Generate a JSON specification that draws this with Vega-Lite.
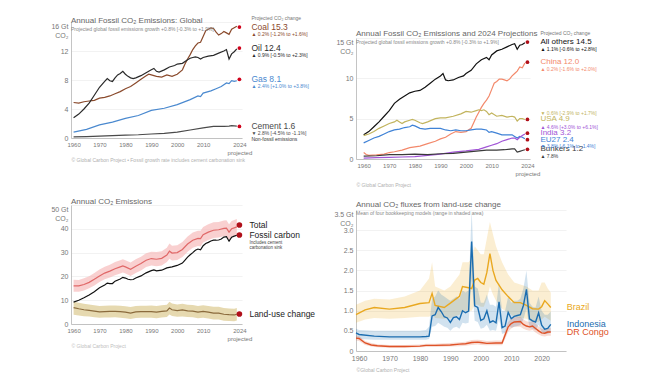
{
"$schema": "https://vega.github.io/schema/vega-lite/v6.json",
"background": "white",
"padding": {"left": 50, "top": 15, "right": 5, "bottom": 5},
"bounds": "full",
"spacing": 17,
"resolve": {"scale": {"color": "independent"}},
"config": {
 "view": {"stroke": null},
 "font": "Liberation Sans",
 "axis": {"labelFont": "Liberation Sans", "labelFontSize": 7, "labelColor": "#777", "domainColor": "#b5b5b5", "domainWidth": 0.8, "ticks": false, "labelPadding": 3, "gridColor": "#ededed", "gridWidth": 0.7, "titleFont": "Liberation Sans", "tickCount": 20},
 "axisX": {"grid": false, "labelOverlap": false},
 "axisY": {"grid": true},
 "title": {"anchor": "start", "frame": "group", "fontSize": 8, "fontWeight": "normal", "color": "#666", "subtitleFontSize": 5, "subtitleColor": "#888", "subtitlePadding": 2, "font": "Liberation Sans", "subtitleFont": "Liberation Sans"},
 "text": {"font": "Liberation Sans"}
},
"datasets": {
 "p1": [
  {"fuel":"Coal","year":1960,"value":4.9},{"fuel":"Coal","year":1962,"value":4.8},{"fuel":"Coal","year":1964,"value":5.0},{"fuel":"Coal","year":1966,"value":5.1},{"fuel":"Coal","year":1968,"value":5.2},{"fuel":"Coal","year":1970,"value":5.5},{"fuel":"Coal","year":1972,"value":5.6},{"fuel":"Coal","year":1974,"value":5.8},{"fuel":"Coal","year":1976,"value":6.1},{"fuel":"Coal","year":1978,"value":6.4},{"fuel":"Coal","year":1980,"value":6.8},{"fuel":"Coal","year":1982,"value":7.1},{"fuel":"Coal","year":1984,"value":7.6},{"fuel":"Coal","year":1986,"value":8.1},{"fuel":"Coal","year":1988,"value":8.6},{"fuel":"Coal","year":1989,"value":8.8},{"fuel":"Coal","year":1990,"value":8.7},{"fuel":"Coal","year":1992,"value":8.5},{"fuel":"Coal","year":1994,"value":8.4},{"fuel":"Coal","year":1996,"value":8.7},{"fuel":"Coal","year":1998,"value":8.5},{"fuel":"Coal","year":2000,"value":8.8},{"fuel":"Coal","year":2002,"value":9.4},{"fuel":"Coal","year":2003,"value":10.2},{"fuel":"Coal","year":2004,"value":10.9},{"fuel":"Coal","year":2005,"value":11.5},{"fuel":"Coal","year":2006,"value":12.2},{"fuel":"Coal","year":2007,"value":12.7},{"fuel":"Coal","year":2008,"value":13.1},{"fuel":"Coal","year":2009,"value":13.2},{"fuel":"Coal","year":2010,"value":14.0},{"fuel":"Coal","year":2011,"value":14.8},{"fuel":"Coal","year":2012,"value":15.0},{"fuel":"Coal","year":2013,"value":15.2},{"fuel":"Coal","year":2014,"value":15.1},{"fuel":"Coal","year":2015,"value":14.6},{"fuel":"Coal","year":2016,"value":14.2},{"fuel":"Coal","year":2017,"value":14.4},{"fuel":"Coal","year":2018,"value":14.7},{"fuel":"Coal","year":2019,"value":14.5},{"fuel":"Coal","year":2020,"value":14.3},{"fuel":"Coal","year":2021,"value":15.0},{"fuel":"Coal","year":2022,"value":15.2},{"fuel":"Coal","year":2023,"value":15.4},
  {"fuel":"Oil","year":1960,"value":2.8},{"fuel":"Oil","year":1962,"value":3.3},{"fuel":"Oil","year":1964,"value":4.0},{"fuel":"Oil","year":1966,"value":4.8},{"fuel":"Oil","year":1968,"value":5.9},{"fuel":"Oil","year":1970,"value":7.0},{"fuel":"Oil","year":1972,"value":7.8},{"fuel":"Oil","year":1973,"value":8.2},{"fuel":"Oil","year":1974,"value":7.9},{"fuel":"Oil","year":1975,"value":7.8},{"fuel":"Oil","year":1976,"value":8.3},{"fuel":"Oil","year":1977,"value":8.7},{"fuel":"Oil","year":1978,"value":8.9},{"fuel":"Oil","year":1979,"value":9.2},{"fuel":"Oil","year":1980,"value":8.8},{"fuel":"Oil","year":1981,"value":8.5},{"fuel":"Oil","year":1982,"value":8.3},{"fuel":"Oil","year":1983,"value":8.2},{"fuel":"Oil","year":1984,"value":8.3},{"fuel":"Oil","year":1986,"value":8.6},{"fuel":"Oil","year":1988,"value":9.0},{"fuel":"Oil","year":1990,"value":9.4},{"fuel":"Oil","year":1991,"value":9.6},{"fuel":"Oil","year":1992,"value":9.2},{"fuel":"Oil","year":1993,"value":9.1},{"fuel":"Oil","year":1995,"value":9.4},{"fuel":"Oil","year":1997,"value":9.8},{"fuel":"Oil","year":1999,"value":10.0},{"fuel":"Oil","year":2000,"value":10.2},{"fuel":"Oil","year":2002,"value":10.3},{"fuel":"Oil","year":2004,"value":10.8},{"fuel":"Oil","year":2005,"value":11.0},{"fuel":"Oil","year":2006,"value":11.1},{"fuel":"Oil","year":2007,"value":11.2},{"fuel":"Oil","year":2008,"value":11.1},{"fuel":"Oil","year":2009,"value":10.9},{"fuel":"Oil","year":2010,"value":11.1},{"fuel":"Oil","year":2012,"value":11.3},{"fuel":"Oil","year":2014,"value":11.4},{"fuel":"Oil","year":2016,"value":11.7},{"fuel":"Oil","year":2018,"value":12.0},{"fuel":"Oil","year":2019,"value":12.2},{"fuel":"Oil","year":2020,"value":10.9},{"fuel":"Oil","year":2021,"value":11.6},{"fuel":"Oil","year":2022,"value":11.9},{"fuel":"Oil","year":2023,"value":12.3},
  {"fuel":"Gas","year":1960,"value":0.8},{"fuel":"Gas","year":1965,"value":1.2},{"fuel":"Gas","year":1970,"value":1.8},{"fuel":"Gas","year":1975,"value":2.2},{"fuel":"Gas","year":1980,"value":2.7},{"fuel":"Gas","year":1985,"value":3.1},{"fuel":"Gas","year":1990,"value":3.8},{"fuel":"Gas","year":1995,"value":4.1},{"fuel":"Gas","year":2000,"value":4.6},{"fuel":"Gas","year":2005,"value":5.3},{"fuel":"Gas","year":2008,"value":5.8},{"fuel":"Gas","year":2009,"value":5.7},{"fuel":"Gas","year":2010,"value":6.2},{"fuel":"Gas","year":2013,"value":6.5},{"fuel":"Gas","year":2015,"value":6.8},{"fuel":"Gas","year":2017,"value":7.1},{"fuel":"Gas","year":2019,"value":7.6},{"fuel":"Gas","year":2020,"value":7.5},{"fuel":"Gas","year":2021,"value":7.9},{"fuel":"Gas","year":2022,"value":7.8},{"fuel":"Gas","year":2023,"value":7.9},
  {"fuel":"Cement","year":1960,"value":0.15},{"fuel":"Cement","year":1965,"value":0.2},{"fuel":"Cement","year":1970,"value":0.25},{"fuel":"Cement","year":1975,"value":0.33},{"fuel":"Cement","year":1980,"value":0.4},{"fuel":"Cement","year":1985,"value":0.45},{"fuel":"Cement","year":1990,"value":0.55},{"fuel":"Cement","year":1995,"value":0.65},{"fuel":"Cement","year":2000,"value":0.8},{"fuel":"Cement","year":2005,"value":1.1},{"fuel":"Cement","year":2010,"value":1.4},{"fuel":"Cement","year":2014,"value":1.6},{"fuel":"Cement","year":2018,"value":1.6},{"fuel":"Cement","year":2020,"value":1.65},{"fuel":"Cement","year":2021,"value":1.7},{"fuel":"Cement","year":2023,"value":1.65}
 ],
 "p1lab": [
  {"fuel":"Coal","value":15.3,"name":"Coal 15.3","growth":"▲ 0.2% [-1.2% to +1.6%]"},
  {"fuel":"Oil","value":12.4,"name":"Oil 12.4","growth":"▲ 0.9% [-0.5% to +2.3%]"},
  {"fuel":"Gas","value":8.1,"name":"Gas 8.1","growth":"▲ 2.4% [+1.0% to +3.8%]"},
  {"fuel":"Cement","value":1.6,"name":"Cement 1.6","growth":"▼ 2.8% [-4.5% to -1.1%]"}
 ],
 "p2": [
  {"country":"All others","year":1960,"value":3.0},{"country":"All others","year":1962,"value":3.4},{"country":"All others","year":1964,"value":4.0},{"country":"All others","year":1966,"value":4.6},{"country":"All others","year":1968,"value":5.3},{"country":"All others","year":1970,"value":6.0},{"country":"All others","year":1972,"value":6.9},{"country":"All others","year":1974,"value":7.4},{"country":"All others","year":1976,"value":7.8},{"country":"All others","year":1978,"value":8.2},{"country":"All others","year":1980,"value":8.4},{"country":"All others","year":1982,"value":8.5},{"country":"All others","year":1984,"value":8.9},{"country":"All others","year":1986,"value":9.4},{"country":"All others","year":1988,"value":9.9},{"country":"All others","year":1990,"value":10.3},{"country":"All others","year":1991,"value":10.6},{"country":"All others","year":1992,"value":9.8},{"country":"All others","year":1993,"value":9.7},{"country":"All others","year":1995,"value":9.8},{"country":"All others","year":1997,"value":10.1},{"country":"All others","year":1999,"value":10.3},{"country":"All others","year":2000,"value":10.6},{"country":"All others","year":2002,"value":11.0},{"country":"All others","year":2004,"value":11.8},{"country":"All others","year":2006,"value":12.3},{"country":"All others","year":2008,"value":12.6},{"country":"All others","year":2009,"value":12.3},{"country":"All others","year":2010,"value":12.9},{"country":"All others","year":2012,"value":13.4},{"country":"All others","year":2014,"value":13.6},{"country":"All others","year":2016,"value":13.9},{"country":"All others","year":2018,"value":14.2},{"country":"All others","year":2019,"value":14.3},{"country":"All others","year":2020,"value":13.6},{"country":"All others","year":2021,"value":14.1},{"country":"All others","year":2022,"value":14.2},{"country":"All others","year":2023,"value":14.4},
  {"country":"China","year":1960,"value":0.8},{"country":"China","year":1961,"value":0.55},{"country":"China","year":1962,"value":0.45},{"country":"China","year":1965,"value":0.5},{"country":"China","year":1968,"value":0.6},{"country":"China","year":1970,"value":0.8},{"country":"China","year":1972,"value":0.9},{"country":"China","year":1975,"value":1.1},{"country":"China","year":1978,"value":1.4},{"country":"China","year":1980,"value":1.5},{"country":"China","year":1982,"value":1.6},{"country":"China","year":1985,"value":1.9},{"country":"China","year":1988,"value":2.2},{"country":"China","year":1990,"value":2.5},{"country":"China","year":1992,"value":2.7},{"country":"China","year":1994,"value":3.1},{"country":"China","year":1996,"value":3.4},{"country":"China","year":1998,"value":3.3},{"country":"China","year":2000,"value":3.4},{"country":"China","year":2002,"value":3.8},{"country":"China","year":2003,"value":4.5},{"country":"China","year":2004,"value":5.2},{"country":"China","year":2005,"value":5.8},{"country":"China","year":2006,"value":6.4},{"country":"China","year":2007,"value":6.9},{"country":"China","year":2008,"value":7.3},{"country":"China","year":2009,"value":7.8},{"country":"China","year":2010,"value":8.6},{"country":"China","year":2011,"value":9.4},{"country":"China","year":2012,"value":9.6},{"country":"China","year":2013,"value":9.9},{"country":"China","year":2014,"value":9.9},{"country":"China","year":2015,"value":9.8},{"country":"China","year":2016,"value":9.7},{"country":"China","year":2017,"value":9.9},{"country":"China","year":2018,"value":10.3},{"country":"China","year":2019,"value":10.6},{"country":"China","year":2020,"value":10.9},{"country":"China","year":2021,"value":11.4},{"country":"China","year":2022,"value":11.3},{"country":"China","year":2023,"value":11.9},
  {"country":"USA","year":1960,"value":2.9},{"country":"USA","year":1962,"value":3.1},{"country":"USA","year":1964,"value":3.4},{"country":"USA","year":1966,"value":3.8},{"country":"USA","year":1968,"value":4.1},{"country":"USA","year":1970,"value":4.4},{"country":"USA","year":1972,"value":4.6},{"country":"USA","year":1973,"value":4.8},{"country":"USA","year":1974,"value":4.6},{"country":"USA","year":1975,"value":4.4},{"country":"USA","year":1976,"value":4.6},{"country":"USA","year":1978,"value":4.8},{"country":"USA","year":1979,"value":4.9},{"country":"USA","year":1980,"value":4.8},{"country":"USA","year":1982,"value":4.5},{"country":"USA","year":1983,"value":4.4},{"country":"USA","year":1985,"value":4.6},{"country":"USA","year":1988,"value":5.0},{"country":"USA","year":1990,"value":5.1},{"country":"USA","year":1992,"value":5.1},{"country":"USA","year":1995,"value":5.3},{"country":"USA","year":1998,"value":5.6},{"country":"USA","year":2000,"value":5.9},{"country":"USA","year":2002,"value":5.8},{"country":"USA","year":2004,"value":6.0},{"country":"USA","year":2005,"value":6.1},{"country":"USA","year":2006,"value":6.0},{"country":"USA","year":2007,"value":6.1},{"country":"USA","year":2008,"value":5.9},{"country":"USA","year":2009,"value":5.5},{"country":"USA","year":2010,"value":5.7},{"country":"USA","year":2012,"value":5.3},{"country":"USA","year":2014,"value":5.4},{"country":"USA","year":2016,"value":5.2},{"country":"USA","year":2018,"value":5.3},{"country":"USA","year":2019,"value":5.2},{"country":"USA","year":2020,"value":4.7},{"country":"USA","year":2021,"value":5.0},{"country":"USA","year":2022,"value":5.0},{"country":"USA","year":2023,"value":4.9},
  {"country":"EU27","year":1960,"value":2.0},{"country":"EU27","year":1962,"value":2.3},{"country":"EU27","year":1964,"value":2.6},{"country":"EU27","year":1966,"value":2.8},{"country":"EU27","year":1968,"value":3.1},{"country":"EU27","year":1970,"value":3.4},{"country":"EU27","year":1972,"value":3.6},{"country":"EU27","year":1974,"value":3.7},{"country":"EU27","year":1976,"value":3.9},{"country":"EU27","year":1978,"value":4.0},{"country":"EU27","year":1979,"value":4.2},{"country":"EU27","year":1980,"value":4.1},{"country":"EU27","year":1982,"value":3.8},{"country":"EU27","year":1984,"value":3.7},{"country":"EU27","year":1986,"value":3.8},{"country":"EU27","year":1988,"value":3.8},{"country":"EU27","year":1990,"value":3.8},{"country":"EU27","year":1992,"value":3.6},{"country":"EU27","year":1994,"value":3.5},{"country":"EU27","year":1996,"value":3.6},{"country":"EU27","year":1998,"value":3.5},{"country":"EU27","year":2000,"value":3.5},{"country":"EU27","year":2002,"value":3.6},{"country":"EU27","year":2004,"value":3.7},{"country":"EU27","year":2006,"value":3.7},{"country":"EU27","year":2008,"value":3.6},{"country":"EU27","year":2009,"value":3.3},{"country":"EU27","year":2010,"value":3.4},{"country":"EU27","year":2012,"value":3.2},{"country":"EU27","year":2014,"value":3.0},{"country":"EU27","year":2016,"value":3.0},{"country":"EU27","year":2018,"value":3.0},{"country":"EU27","year":2019,"value":2.8},{"country":"EU27","year":2020,"value":2.6},{"country":"EU27","year":2021,"value":2.8},{"country":"EU27","year":2022,"value":2.7},{"country":"EU27","year":2023,"value":2.5},
  {"country":"India","year":1960,"value":0.12},{"country":"India","year":1965,"value":0.17},{"country":"India","year":1970,"value":0.2},{"country":"India","year":1975,"value":0.25},{"country":"India","year":1980,"value":0.3},{"country":"India","year":1985,"value":0.45},{"country":"India","year":1990,"value":0.6},{"country":"India","year":1995,"value":0.85},{"country":"India","year":2000,"value":1.0},{"country":"India","year":2005,"value":1.2},{"country":"India","year":2008,"value":1.5},{"country":"India","year":2010,"value":1.7},{"country":"India","year":2012,"value":1.9},{"country":"India","year":2014,"value":2.2},{"country":"India","year":2016,"value":2.4},{"country":"India","year":2018,"value":2.6},{"country":"India","year":2019,"value":2.6},{"country":"India","year":2020,"value":2.4},{"country":"India","year":2021,"value":2.7},{"country":"India","year":2022,"value":2.9},{"country":"India","year":2023,"value":3.1},
  {"country":"Bunkers","year":1960,"value":0.35},{"country":"Bunkers","year":1965,"value":0.4},{"country":"Bunkers","year":1970,"value":0.55},{"country":"Bunkers","year":1975,"value":0.55},{"country":"Bunkers","year":1980,"value":0.6},{"country":"Bunkers","year":1985,"value":0.55},{"country":"Bunkers","year":1990,"value":0.65},{"country":"Bunkers","year":1995,"value":0.7},{"country":"Bunkers","year":2000,"value":0.85},{"country":"Bunkers","year":2005,"value":1.0},{"country":"Bunkers","year":2008,"value":1.1},{"country":"Bunkers","year":2010,"value":1.1},{"country":"Bunkers","year":2012,"value":1.1},{"country":"Bunkers","year":2015,"value":1.15},{"country":"Bunkers","year":2018,"value":1.25},{"country":"Bunkers","year":2019,"value":1.25},{"country":"Bunkers","year":2020,"value":0.85},{"country":"Bunkers","year":2021,"value":0.95},{"country":"Bunkers","year":2022,"value":1.05},{"country":"Bunkers","year":2023,"value":1.15}
 ],
 "p2lab": [
  {"country":"All others","value":14.5,"name":"All others 14.5","growth":"▲ 1.1% [-0.6% to +2.8%]"},
  {"country":"China","value":12.0,"name":"China 12.0","growth":"▲ 0.2% [-1.6% to +2.0%]"},
  {"country":"USA","value":4.9,"name":"USA 4.9","growth":"▼ 0.6% [-2.9% to +1.7%]"},
  {"country":"India","value":3.2,"name":"India 3.2","growth":"▲ 4.6% [+3.0% to +6.1%]"},
  {"country":"EU27","value":2.4,"name":"EU27 2.4","growth":"▼ 3.8% [-6.1% to -1.4%]"},
  {"country":"Bunkers","value":1.2,"name":"Bunkers 1.2","growth":"▲ 7.8%"}
 ],
 "p3": [
  {"series":"Total","year":1960,"value":16.0,"lo":13.6,"hi":18.6},{"series":"Total","year":1962,"value":16.0,"lo":13.6,"hi":18.5},{"series":"Total","year":1964,"value":16.6,"lo":14.1,"hi":19.2},{"series":"Total","year":1966,"value":17.5,"lo":15.0,"hi":20.1},{"series":"Total","year":1968,"value":18.8,"lo":16.2,"hi":21.4},{"series":"Total","year":1970,"value":20.2,"lo":17.6,"hi":22.9},{"series":"Total","year":1972,"value":21.4,"lo":18.8,"hi":24.1},{"series":"Total","year":1974,"value":22.2,"lo":19.5,"hi":24.9},{"series":"Total","year":1976,"value":23.2,"lo":20.5,"hi":26.0},{"series":"Total","year":1978,"value":24.0,"lo":21.2,"hi":26.8},{"series":"Total","year":1979,"value":24.4,"lo":21.6,"hi":27.2},{"series":"Total","year":1980,"value":24.0,"lo":21.2,"hi":26.8},{"series":"Total","year":1982,"value":23.0,"lo":20.2,"hi":25.8},{"series":"Total","year":1984,"value":24.3,"lo":21.4,"hi":27.2},{"series":"Total","year":1986,"value":25.4,"lo":22.5,"hi":28.3},{"series":"Total","year":1988,"value":26.8,"lo":23.9,"hi":29.7},{"series":"Total","year":1990,"value":27.5,"lo":24.6,"hi":30.4},{"series":"Total","year":1992,"value":27.2,"lo":24.3,"hi":30.2},{"series":"Total","year":1994,"value":27.6,"lo":24.6,"hi":30.6},{"series":"Total","year":1996,"value":29.0,"lo":26.0,"hi":32.0},{"series":"Total","year":1997,"value":30.6,"lo":27.4,"hi":33.8},{"series":"Total","year":1998,"value":29.8,"lo":26.7,"hi":32.9},{"series":"Total","year":2000,"value":30.0,"lo":26.9,"hi":33.1},{"series":"Total","year":2002,"value":31.3,"lo":28.1,"hi":34.5},{"series":"Total","year":2004,"value":33.6,"lo":30.4,"hi":36.8},{"series":"Total","year":2006,"value":35.2,"lo":32.0,"hi":38.4},{"series":"Total","year":2008,"value":36.0,"lo":32.8,"hi":39.2},{"series":"Total","year":2009,"value":35.9,"lo":32.6,"hi":39.2},{"series":"Total","year":2010,"value":37.5,"lo":34.2,"hi":40.8},{"series":"Total","year":2012,"value":38.6,"lo":35.3,"hi":41.9},{"series":"Total","year":2014,"value":39.4,"lo":36.1,"hi":42.7},{"series":"Total","year":2016,"value":39.6,"lo":36.3,"hi":42.9},{"series":"Total","year":2018,"value":40.2,"lo":36.9,"hi":43.5},{"series":"Total","year":2019,"value":40.3,"lo":37.0,"hi":43.6},{"series":"Total","year":2020,"value":38.6,"lo":35.3,"hi":41.9},{"series":"Total","year":2021,"value":40.0,"lo":36.7,"hi":43.3},{"series":"Total","year":2022,"value":40.4,"lo":37.1,"hi":43.7},{"series":"Total","year":2023,"value":40.8,"lo":37.5,"hi":44.1},
  {"series":"Fossil carbon","year":1960,"value":9.2},{"series":"Fossil carbon","year":1962,"value":10.0},{"series":"Fossil carbon","year":1964,"value":11.0},{"series":"Fossil carbon","year":1966,"value":12.2},{"series":"Fossil carbon","year":1968,"value":13.6},{"series":"Fossil carbon","year":1970,"value":15.2},{"series":"Fossil carbon","year":1972,"value":16.4},{"series":"Fossil carbon","year":1973,"value":17.2},{"series":"Fossil carbon","year":1974,"value":17.0},{"series":"Fossil carbon","year":1975,"value":17.0},{"series":"Fossil carbon","year":1976,"value":18.0},{"series":"Fossil carbon","year":1978,"value":18.9},{"series":"Fossil carbon","year":1979,"value":19.6},{"series":"Fossil carbon","year":1980,"value":19.3},{"series":"Fossil carbon","year":1981,"value":18.8},{"series":"Fossil carbon","year":1982,"value":18.6},{"series":"Fossil carbon","year":1983,"value":18.7},{"series":"Fossil carbon","year":1984,"value":19.3},{"series":"Fossil carbon","year":1986,"value":20.2},{"series":"Fossil carbon","year":1988,"value":21.5},{"series":"Fossil carbon","year":1990,"value":22.4},{"series":"Fossil carbon","year":1991,"value":22.7},{"series":"Fossil carbon","year":1992,"value":22.3},{"series":"Fossil carbon","year":1994,"value":22.6},{"series":"Fossil carbon","year":1996,"value":23.6},{"series":"Fossil carbon","year":1998,"value":24.0},{"series":"Fossil carbon","year":2000,"value":24.6},{"series":"Fossil carbon","year":2002,"value":25.6},{"series":"Fossil carbon","year":2003,"value":26.8},{"series":"Fossil carbon","year":2004,"value":28.1},{"series":"Fossil carbon","year":2005,"value":29.1},{"series":"Fossil carbon","year":2006,"value":30.0},{"series":"Fossil carbon","year":2007,"value":31.0},{"series":"Fossil carbon","year":2008,"value":31.5},{"series":"Fossil carbon","year":2009,"value":31.2},{"series":"Fossil carbon","year":2010,"value":32.9},{"series":"Fossil carbon","year":2011,"value":33.8},{"series":"Fossil carbon","year":2012,"value":34.3},{"series":"Fossil carbon","year":2013,"value":34.9},{"series":"Fossil carbon","year":2014,"value":35.2},{"series":"Fossil carbon","year":2015,"value":35.2},{"series":"Fossil carbon","year":2016,"value":35.3},{"series":"Fossil carbon","year":2017,"value":35.7},{"series":"Fossil carbon","year":2018,"value":36.5},{"series":"Fossil carbon","year":2019,"value":36.7},{"series":"Fossil carbon","year":2020,"value":34.8},{"series":"Fossil carbon","year":2021,"value":36.5},{"series":"Fossil carbon","year":2022,"value":36.9},{"series":"Fossil carbon","year":2023,"value":37.3},
  {"series":"Land-use change","year":1960,"value":6.9,"lo":3.9,"hi":9.3},{"series":"Land-use change","year":1962,"value":6.4,"lo":3.6,"hi":8.9},{"series":"Land-use change","year":1964,"value":6.0,"lo":3.3,"hi":8.5},{"series":"Land-use change","year":1966,"value":5.7,"lo":3.1,"hi":8.2},{"series":"Land-use change","year":1968,"value":5.4,"lo":2.8,"hi":7.9},{"series":"Land-use change","year":1970,"value":5.1,"lo":2.6,"hi":7.6},{"series":"Land-use change","year":1972,"value":5.2,"lo":2.7,"hi":7.7},{"series":"Land-use change","year":1974,"value":5.3,"lo":2.7,"hi":7.8},{"series":"Land-use change","year":1976,"value":5.3,"lo":2.8,"hi":7.8},{"series":"Land-use change","year":1978,"value":5.2,"lo":2.6,"hi":7.7},{"series":"Land-use change","year":1980,"value":5.0,"lo":2.4,"hi":7.5},{"series":"Land-use change","year":1982,"value":4.6,"lo":2.1,"hi":7.1},{"series":"Land-use change","year":1984,"value":5.1,"lo":2.5,"hi":7.6},{"series":"Land-use change","year":1986,"value":5.2,"lo":2.6,"hi":7.7},{"series":"Land-use change","year":1988,"value":5.2,"lo":2.6,"hi":7.7},{"series":"Land-use change","year":1990,"value":5.2,"lo":2.6,"hi":7.8},{"series":"Land-use change","year":1992,"value":5.0,"lo":2.4,"hi":7.6},{"series":"Land-use change","year":1994,"value":5.3,"lo":2.7,"hi":7.9},{"series":"Land-use change","year":1996,"value":5.5,"lo":2.9,"hi":8.1},{"series":"Land-use change","year":1997,"value":6.7,"lo":4.0,"hi":9.3},{"series":"Land-use change","year":1998,"value":6.0,"lo":3.4,"hi":8.6},{"series":"Land-use change","year":2000,"value":5.6,"lo":3.0,"hi":8.2},{"series":"Land-use change","year":2002,"value":5.9,"lo":3.2,"hi":8.5},{"series":"Land-use change","year":2004,"value":5.5,"lo":2.9,"hi":8.1},{"series":"Land-use change","year":2006,"value":5.4,"lo":2.8,"hi":8.0},{"series":"Land-use change","year":2008,"value":5.0,"lo":2.4,"hi":7.6},{"series":"Land-use change","year":2010,"value":5.3,"lo":2.6,"hi":7.9},{"series":"Land-use change","year":2012,"value":5.0,"lo":2.3,"hi":7.6},{"series":"Land-use change","year":2014,"value":4.6,"lo":1.9,"hi":7.2},{"series":"Land-use change","year":2016,"value":4.6,"lo":1.9,"hi":7.2},{"series":"Land-use change","year":2018,"value":4.1,"lo":1.4,"hi":6.7},{"series":"Land-use change","year":2020,"value":3.9,"lo":1.3,"hi":6.5},{"series":"Land-use change","year":2022,"value":3.8,"lo":1.2,"hi":6.4},{"series":"Land-use change","year":2023,"value":4.1,"lo":1.5,"hi":6.7}
 ],
 "p3lab": [
  {"series":"Total","value":41.6,"name":"Total"},
  {"series":"Fossil carbon","value":37.4,"name":"Fossil carbon"},
  {"series":"Land-use change","value":4.2,"name":"Land-use change"}
 ],
 "p4": [
  {"country":"Brazil","year":1959,"value":0.9,"lo":0.7,"hi":1.15},{"country":"Brazil","year":1962,"value":1.02,"lo":0.78,"hi":1.25},{"country":"Brazil","year":1965,"value":1.08,"lo":0.82,"hi":1.3},{"country":"Brazil","year":1970,"value":1.04,"lo":0.8,"hi":1.28},{"country":"Brazil","year":1975,"value":1.08,"lo":0.82,"hi":1.35},{"country":"Brazil","year":1980,"value":1.18,"lo":0.85,"hi":1.5},{"country":"Brazil","year":1983,"value":1.2,"lo":0.85,"hi":1.8},{"country":"Brazil","year":1984,"value":1.43,"lo":0.9,"hi":2.2},{"country":"Brazil","year":1985,"value":1.13,"lo":0.82,"hi":1.6},{"country":"Brazil","year":1988,"value":1.08,"lo":0.8,"hi":1.5},{"country":"Brazil","year":1990,"value":1.19,"lo":0.82,"hi":1.6},{"country":"Brazil","year":1993,"value":1.36,"lo":0.9,"hi":1.9},{"country":"Brazil","year":1994,"value":1.6,"lo":1.0,"hi":2.2},{"country":"Brazil","year":1996,"value":1.57,"lo":1.0,"hi":2.2},{"country":"Brazil","year":1997,"value":1.55,"lo":1.0,"hi":2.3},{"country":"Brazil","year":1998,"value":1.76,"lo":1.15,"hi":2.6},{"country":"Brazil","year":1999,"value":1.8,"lo":1.15,"hi":2.5},{"country":"Brazil","year":2000,"value":1.7,"lo":1.1,"hi":2.4},{"country":"Brazil","year":2001,"value":1.66,"lo":1.1,"hi":2.4},{"country":"Brazil","year":2002,"value":1.95,"lo":1.3,"hi":2.8},{"country":"Brazil","year":2003,"value":2.42,"lo":1.6,"hi":3.2},{"country":"Brazil","year":2004,"value":2.0,"lo":1.4,"hi":2.9},{"country":"Brazil","year":2005,"value":1.75,"lo":1.25,"hi":2.6},{"country":"Brazil","year":2007,"value":1.52,"lo":1.05,"hi":2.2},{"country":"Brazil","year":2009,"value":1.35,"lo":0.95,"hi":1.9},{"country":"Brazil","year":2011,"value":1.2,"lo":0.85,"hi":1.7},{"country":"Brazil","year":2013,"value":1.2,"lo":0.82,"hi":1.65},{"country":"Brazil","year":2015,"value":1.13,"lo":0.8,"hi":1.6},{"country":"Brazil","year":2017,"value":1.05,"lo":0.72,"hi":1.5},{"country":"Brazil","year":2019,"value":1.04,"lo":0.72,"hi":1.5},{"country":"Brazil","year":2020,"value":1.1,"lo":0.78,"hi":1.7},{"country":"Brazil","year":2021,"value":1.25,"lo":0.85,"hi":1.7},{"country":"Brazil","year":2022,"value":1.17,"lo":0.8,"hi":1.55},{"country":"Brazil","year":2023,"value":1.08,"lo":0.75,"hi":1.45},
  {"country":"Indonesia","year":1959,"value":0.45,"lo":0.3,"hi":0.55},{"country":"Indonesia","year":1960,"value":0.41,"lo":0.3,"hi":0.52},{"country":"Indonesia","year":1965,"value":0.37,"lo":0.28,"hi":0.5},{"country":"Indonesia","year":1970,"value":0.35,"lo":0.28,"hi":0.5},{"country":"Indonesia","year":1975,"value":0.35,"lo":0.28,"hi":0.5},{"country":"Indonesia","year":1980,"value":0.35,"lo":0.28,"hi":0.5},{"country":"Indonesia","year":1982,"value":0.36,"lo":0.28,"hi":0.52},{"country":"Indonesia","year":1983,"value":0.37,"lo":0.3,"hi":0.6},{"country":"Indonesia","year":1984,"value":0.87,"lo":0.6,"hi":1.3},{"country":"Indonesia","year":1985,"value":0.9,"lo":0.62,"hi":1.35},{"country":"Indonesia","year":1986,"value":1.08,"lo":0.7,"hi":1.5},{"country":"Indonesia","year":1987,"value":0.98,"lo":0.65,"hi":1.4},{"country":"Indonesia","year":1988,"value":0.85,"lo":0.6,"hi":1.35},{"country":"Indonesia","year":1989,"value":0.82,"lo":0.58,"hi":1.3},{"country":"Indonesia","year":1990,"value":0.71,"lo":0.5,"hi":1.25},{"country":"Indonesia","year":1991,"value":0.83,"lo":0.58,"hi":1.3},{"country":"Indonesia","year":1992,"value":0.85,"lo":0.6,"hi":1.35},{"country":"Indonesia","year":1993,"value":0.78,"lo":0.55,"hi":1.3},{"country":"Indonesia","year":1994,"value":1.0,"lo":0.7,"hi":1.5},{"country":"Indonesia","year":1995,"value":0.95,"lo":0.68,"hi":1.45},{"country":"Indonesia","year":1996,"value":0.99,"lo":0.7,"hi":1.5},{"country":"Indonesia","year":1997,"value":2.72,"lo":1.8,"hi":3.5},{"country":"Indonesia","year":1998,"value":1.12,"lo":0.75,"hi":1.6},{"country":"Indonesia","year":1999,"value":1.08,"lo":0.72,"hi":1.55},{"country":"Indonesia","year":2000,"value":0.76,"lo":0.55,"hi":1.2},{"country":"Indonesia","year":2001,"value":0.8,"lo":0.58,"hi":1.2},{"country":"Indonesia","year":2002,"value":1.0,"lo":0.65,"hi":1.4},{"country":"Indonesia","year":2003,"value":0.71,"lo":0.5,"hi":1.15},{"country":"Indonesia","year":2004,"value":0.75,"lo":0.52,"hi":1.15},{"country":"Indonesia","year":2005,"value":0.7,"lo":0.5,"hi":1.1},{"country":"Indonesia","year":2006,"value":1.22,"lo":0.8,"hi":1.7},{"country":"Indonesia","year":2007,"value":0.58,"lo":0.42,"hi":1.0},{"country":"Indonesia","year":2008,"value":0.62,"lo":0.45,"hi":1.0},{"country":"Indonesia","year":2009,"value":0.96,"lo":0.65,"hi":1.35},{"country":"Indonesia","year":2010,"value":0.8,"lo":0.58,"hi":1.2},{"country":"Indonesia","year":2011,"value":0.86,"lo":0.6,"hi":1.25},{"country":"Indonesia","year":2012,"value":0.88,"lo":0.62,"hi":1.25},{"country":"Indonesia","year":2013,"value":0.9,"lo":0.64,"hi":1.3},{"country":"Indonesia","year":2014,"value":1.13,"lo":0.78,"hi":1.55},{"country":"Indonesia","year":2015,"value":1.53,"lo":1.05,"hi":2.0},{"country":"Indonesia","year":2016,"value":0.8,"lo":0.58,"hi":1.2},{"country":"Indonesia","year":2017,"value":0.75,"lo":0.55,"hi":1.1},{"country":"Indonesia","year":2018,"value":0.72,"lo":0.52,"hi":1.08},{"country":"Indonesia","year":2019,"value":0.95,"lo":0.65,"hi":1.35},{"country":"Indonesia","year":2020,"value":0.64,"lo":0.48,"hi":1.0},{"country":"Indonesia","year":2021,"value":0.54,"lo":0.42,"hi":0.9},{"country":"Indonesia","year":2022,"value":0.56,"lo":0.42,"hi":0.9},{"country":"Indonesia","year":2023,"value":0.66,"lo":0.48,"hi":0.98},
  {"country":"DR Congo","year":1959,"value":0.32,"lo":0.26,"hi":0.38},{"country":"DR Congo","year":1960,"value":0.31,"lo":0.25,"hi":0.37},{"country":"DR Congo","year":1962,"value":0.2,"lo":0.15,"hi":0.25},{"country":"DR Congo","year":1964,"value":0.15,"lo":0.11,"hi":0.2},{"country":"DR Congo","year":1966,"value":0.13,"lo":0.09,"hi":0.17},{"country":"DR Congo","year":1970,"value":0.11,"lo":0.08,"hi":0.15},{"country":"DR Congo","year":1975,"value":0.11,"lo":0.08,"hi":0.15},{"country":"DR Congo","year":1980,"value":0.12,"lo":0.09,"hi":0.16},{"country":"DR Congo","year":1982,"value":0.14,"lo":0.1,"hi":0.18},{"country":"DR Congo","year":1985,"value":0.14,"lo":0.1,"hi":0.18},{"country":"DR Congo","year":1990,"value":0.15,"lo":0.11,"hi":0.2},{"country":"DR Congo","year":1993,"value":0.17,"lo":0.12,"hi":0.22},{"country":"DR Congo","year":1995,"value":0.18,"lo":0.13,"hi":0.23},{"country":"DR Congo","year":1997,"value":0.21,"lo":0.15,"hi":0.27},{"country":"DR Congo","year":1999,"value":0.22,"lo":0.16,"hi":0.28},{"country":"DR Congo","year":2000,"value":0.21,"lo":0.15,"hi":0.27},{"country":"DR Congo","year":2002,"value":0.19,"lo":0.14,"hi":0.25},{"country":"DR Congo","year":2005,"value":0.2,"lo":0.14,"hi":0.26},{"country":"DR Congo","year":2007,"value":0.2,"lo":0.14,"hi":0.26},{"country":"DR Congo","year":2008,"value":0.4,"lo":0.3,"hi":0.5},{"country":"DR Congo","year":2009,"value":0.6,"lo":0.48,"hi":0.72},{"country":"DR Congo","year":2010,"value":0.68,"lo":0.56,"hi":0.8},{"country":"DR Congo","year":2011,"value":0.72,"lo":0.6,"hi":0.84},{"country":"DR Congo","year":2013,"value":0.73,"lo":0.6,"hi":0.85},{"country":"DR Congo","year":2014,"value":0.66,"lo":0.55,"hi":0.78},{"country":"DR Congo","year":2015,"value":0.62,"lo":0.52,"hi":0.74},{"country":"DR Congo","year":2016,"value":0.6,"lo":0.5,"hi":0.72},{"country":"DR Congo","year":2017,"value":0.62,"lo":0.52,"hi":0.74},{"country":"DR Congo","year":2018,"value":0.56,"lo":0.46,"hi":0.68},{"country":"DR Congo","year":2019,"value":0.5,"lo":0.41,"hi":0.61},{"country":"DR Congo","year":2020,"value":0.45,"lo":0.37,"hi":0.55},{"country":"DR Congo","year":2021,"value":0.44,"lo":0.36,"hi":0.54},{"country":"DR Congo","year":2022,"value":0.47,"lo":0.38,"hi":0.57},{"country":"DR Congo","year":2023,"value":0.47,"lo":0.38,"hi":0.57}
 ]
},
"hconcat": [
 {"vconcat": [
  {
   "width": 171, "height": 116,
   "title": {"text": "Annual Fossil CO₂ Emissions: Global", "subtitle": "Projected global fossil emissions growth +0.8% [-0.3% to +1.9%]", "offset": -16},
   "layer": [
    {"data": {"name": "p1"}, "mark": {"type": "line", "strokeWidth": 1.2},
     "encoding": {
      "x": {"field": "year", "type": "quantitative", "scale": {"domain": [1959, 2025], "nice": false, "zero": false},
            "axis": {"values": [1960,1970,1980,1990,2000,2010,2024], "tickCount": 20, "format": "d", "labelOverlap": false, "labelFontSize": 6, "labelExpr": "datum.value == 2024 ? ['2024','projected'] : datum.label", "title": "© Global Carbon Project • Fossil growth rate includes cement carbonation sink", "titleAnchor": "start", "titleFontSize": 5, "titleColor": "#b0b0b0", "titleFontWeight": "normal", "titlePadding": 2}},
      "y": {"field": "value", "type": "quantitative", "scale": {"domain": [0, 16], "nice": false},
            "axis": {"values": [0,4,8,12,16], "tickCount": 20, "title": null, "labelExpr": "datum.value == 16 ? ['16 Gt','CO₂'] : datum.label", "labelOffset": {"condition": {"test": "datum.value == 16", "value": 4}, "value": 0}}},
      "color": {"field": "fuel", "type": "nominal", "scale": {"domain": ["Coal","Oil","Gas","Cement"], "range": ["#8a4a2c","#2a2a2a","#4a89cf","#4a4a4a"]}, "legend": null}}},
    {"data": {"name": "p1lab"}, "mark": {"type": "circle", "size": 14, "color": "#d0021b", "opacity": 1},
     "encoding": {"x": {"datum": 2024, "type": "quantitative"}, "y": {"field": "value", "type": "quantitative"}}},
    {"data": {"name": "p1lab"}, "mark": {"type": "text", "align": "left", "baseline": "middle", "dx": 12, "dy": -0.5, "fontSize": 8.5},
     "encoding": {"x": {"datum": 2024, "type": "quantitative"}, "y": {"field": "value", "type": "quantitative"}, "text": {"field": "name"}, "color": {"field": "fuel", "type": "nominal"}}},
    {"data": {"name": "p1lab"}, "mark": {"type": "text", "align": "left", "baseline": "middle", "dx": 12, "dy": 6.5, "fontSize": 5},
     "encoding": {"x": {"datum": 2024, "type": "quantitative"}, "y": {"field": "value", "type": "quantitative"}, "text": {"field": "growth"}, "color": {"field": "fuel", "type": "nominal"}}},
    {"data": {"name": "p1lab"}, "transform": [{"filter": "datum.fuel == 'Coal'"}], "mark": {"type": "text", "align": "left", "baseline": "middle", "dx": 12, "dy": -9.5, "fontSize": 5, "color": "#777"},
     "encoding": {"x": {"datum": 2024, "type": "quantitative"}, "y": {"field": "value", "type": "quantitative"}, "text": {"value": "Projected CO₂ change"}}},
    {"data": {"name": "p1lab"}, "transform": [{"filter": "datum.fuel == 'Cement'"}], "mark": {"type": "text", "align": "left", "baseline": "middle", "dx": 12, "dy": 12.5, "fontSize": 5, "color": "#333"},
     "encoding": {"x": {"datum": 2024, "type": "quantitative"}, "y": {"field": "value", "type": "quantitative"}, "text": {"value": "Non-fossil emissions"}}}
   ]
  },
  {
   "width": 171, "height": 119,
   "title": {"text": "Annual CO₂ Emissions", "offset": -1},
   "data": {"name": "p3"},
   "layer": [
    {"transform": [{"filter": "datum.series == 'Total'"}], "mark": {"type": "area", "color": "#f6bcbc", "opacity": 0.7},
     "encoding": {"x": {"field": "year", "type": "quantitative"}, "y": {"field": "lo", "type": "quantitative"}, "y2": {"field": "hi"}}},
    {"transform": [{"filter": "datum.series == 'Land-use change'"}], "mark": {"type": "area", "color": "#e0cf9c", "opacity": 0.8},
     "encoding": {"x": {"field": "year", "type": "quantitative"}, "y": {"field": "lo", "type": "quantitative"}, "y2": {"field": "hi"}}},
    {"mark": {"type": "line", "strokeWidth": 1.2},
     "encoding": {
      "x": {"field": "year", "type": "quantitative", "scale": {"domain": [1959, 2025], "nice": false, "zero": false},
            "axis": {"values": [1960,1970,1980,1990,2000,2010,2024], "tickCount": 20, "format": "d", "labelOverlap": false, "labelFontSize": 6, "labelExpr": "datum.value == 2024 ? ['2024','projected'] : datum.label", "title": "© Global Carbon Project", "titleAnchor": "start", "titleFontSize": 5, "titleColor": "#c0c0c0", "titleFontWeight": "normal", "titlePadding": 2}},
      "y": {"field": "value", "type": "quantitative", "scale": {"domain": [0, 50], "nice": false},
            "axis": {"values": [0,10,20,30,40,50], "tickCount": 20, "title": null, "labelExpr": "datum.value == 50 ? ['50 Gt','CO₂'] : datum.label", "labelOffset": {"condition": {"test": "datum.value == 50", "value": 4}, "value": 0}}},
      "color": {"field": "series", "type": "nominal", "scale": {"domain": ["Total","Fossil carbon","Land-use change"], "range": ["#e06868","#111111","#8b6b3d"]}, "legend": null}}},
    {"data": {"name": "p3lab"}, "mark": {"type": "circle", "size": 32, "color": "#b0101a", "opacity": 1},
     "encoding": {"x": {"datum": 2024, "type": "quantitative"}, "y": {"field": "value", "type": "quantitative"}}},
    {"data": {"name": "p3lab"}, "mark": {"type": "text", "align": "left", "baseline": "middle", "dx": 10, "fontSize": 8.5, "color": "#222"},
     "encoding": {"x": {"datum": 2024, "type": "quantitative"}, "y": {"field": "value", "type": "quantitative"}, "text": {"field": "name"}}},
    {"data": {"name": "p3lab"}, "transform": [{"filter": "datum.series == 'Fossil carbon'"}], "mark": {"type": "text", "align": "left", "baseline": "top", "dx": 10, "dy": 5, "fontSize": 4.5, "lineHeight": 5, "color": "#444"},
     "encoding": {"x": {"datum": 2024, "type": "quantitative"}, "y": {"field": "value", "type": "quantitative"}, "text": {"value": ["Includes cement", "carbonation sink"]}}}
   ]
  }
 ], "spacing": 67, "bounds": "flush", "resolve": {"scale": {"color": "independent"}}},
 {"vconcat": [
  {"vconcat": [
   {"width": 171, "height": 16, "data": {"values": [{"a": 1}]}, "mark": {"type": "point", "opacity": 0}, "encoding": {}},
   {
    "width": 174, "height": 121,
    "title": {"text": "Annual Fossil CO₂ Emissions and 2024 Projections", "subtitle": "Projected global fossil emissions growth +0.8% [-0.3% to +1.9%]", "offset": -14},
    "layer": [
     {"data": {"name": "p2"}, "mark": {"type": "line", "strokeWidth": 1.2},
      "encoding": {
       "x": {"field": "year", "type": "quantitative", "scale": {"domain": [1957, 2025], "nice": false, "zero": false},
             "axis": {"values": [1960,1970,1980,1990,2000,2010,2024], "tickCount": 20, "format": "d", "labelOverlap": false, "labelFontSize": 6, "labelExpr": "datum.value == 2024 ? ['2024','projected'] : datum.label", "title": "© Global Carbon Project", "titleAnchor": "start", "titleFontSize": 5, "titleColor": "#b0b0b0", "titleFontWeight": "normal", "titlePadding": 6}},
       "y": {"field": "value", "type": "quantitative", "scale": {"domain": [0, 15], "nice": false},
             "axis": {"values": [0,5,10,15], "tickCount": 20, "title": null, "labelExpr": "datum.value == 15 ? ['15 Gt','CO₂'] : datum.label", "labelOffset": {"condition": {"test": "datum.value == 15", "value": 4}, "value": 0}}},
       "color": {"field": "country", "type": "nominal", "scale": {"domain": ["All others","China","USA","India","EU27","Bunkers"], "range": ["#111111","#f3896b","#c2b45e","#a155d6","#3f82d6","#3a3a3a"]}, "legend": null}}},
     {"data": {"name": "p2lab"}, "mark": {"type": "circle", "size": 14, "color": "#b0101a", "opacity": 1},
      "encoding": {"x": {"datum": 2024, "type": "quantitative"}, "y": {"field": "value", "type": "quantitative"}}},
     {"data": {"name": "p2lab"}, "mark": {"type": "text", "align": "left", "baseline": "middle", "dx": 13, "fontSize": 8},
      "encoding": {"x": {"datum": 2024, "type": "quantitative"}, "y": {"field": "value", "type": "quantitative"}, "text": {"field": "name"}, "color": {"field": "country", "type": "nominal"}}},
     {"data": {"name": "p2lab"}, "transform": [{"filter": "datum.country != 'USA' && datum.country != 'India'"}], "mark": {"type": "text", "align": "left", "baseline": "middle", "dx": 13, "dy": 6.5, "fontSize": 5},
      "encoding": {"x": {"datum": 2024, "type": "quantitative"}, "y": {"field": "value", "type": "quantitative"}, "text": {"field": "growth"}, "color": {"field": "country", "type": "nominal"}}},
     {"data": {"name": "p2lab"}, "transform": [{"filter": "datum.country == 'USA' || datum.country == 'India'"}], "mark": {"type": "text", "align": "left", "baseline": "middle", "dx": 13, "dy": -6.5, "fontSize": 5},
      "encoding": {"x": {"datum": 2024, "type": "quantitative"}, "y": {"field": "value", "type": "quantitative"}, "text": {"field": "growth"}, "color": {"field": "country", "type": "nominal"}}},
     {"data": {"name": "p2lab"}, "transform": [{"filter": "datum.country == 'All others'"}], "mark": {"type": "text", "align": "left", "baseline": "middle", "dx": 13, "dy": -9, "fontSize": 5, "color": "#777"},
      "encoding": {"x": {"datum": 2024, "type": "quantitative"}, "y": {"field": "value", "type": "quantitative"}, "text": {"value": "Projected CO₂ change"}}}
    ]
   }
  ], "spacing": 0, "bounds": "flush", "resolve": {"scale": {"color": "independent"}}},
  {
   "width": 210, "height": 141,
   "title": {"text": "Annual CO₂ fluxes from land-use change", "subtitle": "Mean of four bookkeeping models (range in shaded area)", "offset": -6},
   "data": {"name": "p4"},
   "layer": [
    {"mark": {"type": "area", "opacity": 0.2},
     "encoding": {"x": {"field": "year", "type": "quantitative"}, "y": {"field": "lo", "type": "quantitative"}, "y2": {"field": "hi"}, "color": {"field": "country", "type": "nominal"}}},
    {"mark": {"type": "line", "strokeWidth": 1.4},
     "encoding": {
      "x": {"field": "year", "type": "quantitative", "scale": {"domain": [1959, 2028], "nice": false, "zero": false},
            "axis": {"values": [1960,1970,1980,1990,2000,2010,2020], "tickCount": 20, "format": "d", "labelOverlap": false, "labelFontSize": 7, "title": "©Global Carbon Project", "titleAnchor": "start", "titleFontSize": 5, "titleColor": "#b0b0b0", "titleFontWeight": "normal", "titlePadding": 6}},
      "y": {"field": "value", "type": "quantitative", "scale": {"domain": [0, 3.5], "nice": false},
            "axis": {"values": [0,0.5,1,1.5,2,2.5,3,3.5], "tickCount": 20, "title": null, "labelExpr": "datum.value == 3.5 ? ['3.5 Gt','CO₂'] : (datum.value == 0 ? '0' : format(datum.value, '.1f'))", "labelOffset": {"condition": {"test": "datum.value == 3.5", "value": 4}, "value": 0}}},
      "color": {"field": "country", "type": "nominal", "scale": {"domain": ["Brazil","Indonesia","DR Congo"], "range": ["#e9a820","#1b6db0","#de5227"]}, "legend": null}}},
    {"transform": [{"filter": "datum.year == 2023"}], "mark": {"type": "text", "align": "left", "baseline": "middle", "dx": 16, "fontSize": 9},
     "encoding": {"x": {"field": "year", "type": "quantitative"}, "y": {"field": "value", "type": "quantitative"}, "text": {"field": "country"}, "color": {"field": "country", "type": "nominal"}}}
   ]
  }
 ], "spacing": 14, "bounds": "full", "resolve": {"scale": {"color": "independent"}}}
]
}
